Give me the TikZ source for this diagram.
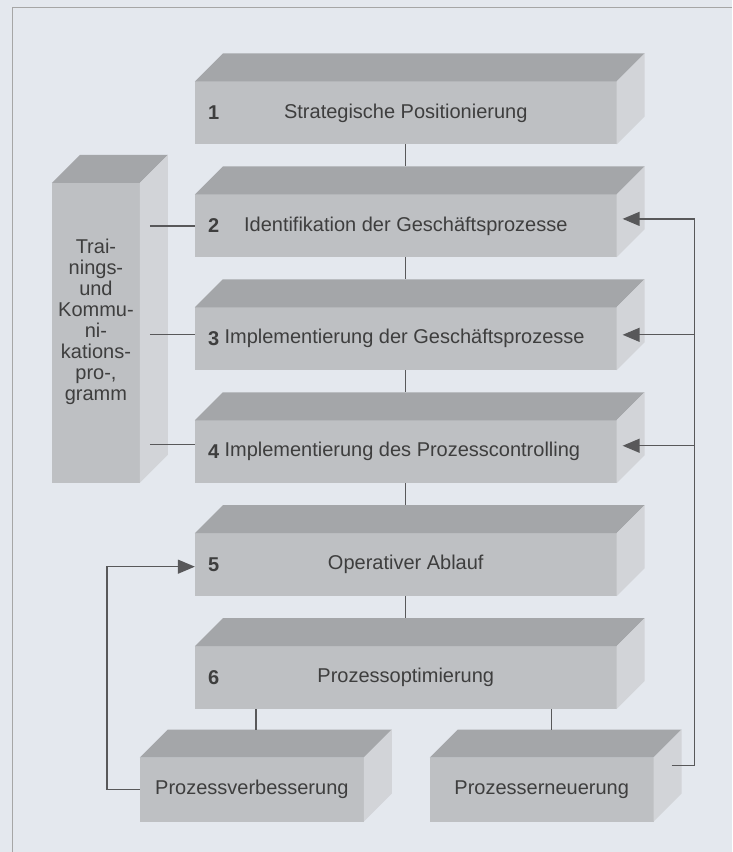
\documentclass[tikz,border=0pt]{standalone}
\usepackage{fontspec}
\setmainfont{Liberation Sans}
\usetikzlibrary{positioning, calc, arrows.meta}
\definecolor{paper}{RGB}{228,232,238}
\definecolor{frontgray}{RGB}{190,192,195}
\definecolor{topgray}{RGB}{164,166,169}
\definecolor{sidegray}{RGB}{210,212,216}
\definecolor{inkgray}{RGB}{62,62,62}
\definecolor{linegray}{RGB}{88,88,90}
\tikzstyle{Line} = [line width=1.3pt, draw=linegray]
\tikzstyle{Arrow} = [
%filled triangle tip like in the scan:
line width=1.3pt, draw=linegray,
-{Triangle[length=17pt, width=14pt]}
]
% top and right face of a block, drawn at the front node #1
\newcommand{\quader}[1]{%
\fill[topgray] (#1.north west) -- ++(28,-28) -- ($(#1.north east)+(28,-28)$) -- (#1.north east) -- cycle;
\fill[sidegray] (#1.north east) -- ++(28,-28) -- ($(#1.south east)+(28,-28)$) -- (#1.south east) -- cycle;
}

\begin{document}
\begin{tikzpicture}[
				x=1pt, y=-1pt,
				front/.style = {rectangle, fill=frontgray, inner sep=0pt, outer sep=0pt, text=inkgray, font=\fontsize{20}{21}\selectfont},
				stage/.style = {front, minimum width=422pt, minimum height=63pt},
				branch/.style = {front, minimum width=224pt, minimum height=64pt},
				nr/.style = {inner sep=0pt, text=inkgray, font=\fontsize{20}{21}\selectfont\bfseries},
				txt/.style = {inner sep=0pt, text=inkgray, font=\fontsize{20}{21}\selectfont},
			]
			\fill[paper] (0,0) rectangle (732,852);
			\draw[gray!70, line width=1pt] (13,852) -- (13,7) -- (732,7);

			\node[stage](B1) at (406,113){Strategische Positionierung};
			\node[stage](B2) at (406,226){Identifikation der Geschäftsprozesse};
			\node[stage](B3) at (406,339){};
			\node[stage](B4) at (406,452){};
			\node[stage](B5) at (406,565){Operativer Ablauf};
			\node[stage](B6) at (406,678){Prozessoptimierung};
			\node[branch](P1) at (252,790){Prozessverbesserung};
			\node[branch](P2) at (542,790){Prozesserneuerung};
			\node[front, minimum width=88pt, minimum height=300pt](T) at (96,333){};
			\node[txt, align=center](TT) at (96,322){Trai-\\nings-\\und\\Kommu-\\ni-\\kations-\\pro-,\\gramm};

			\quader{B1} \quader{B2} \quader{B3} \quader{B4} \quader{B5} \quader{B6}
			\quader{P1} \quader{P2} \quader{T}

			\node[nr, right=13pt of B1.west](N1){1};
			\node[nr, right=13pt of B2.west](N2){2};
			\node[nr, right=13pt of B3.west](N3){3};
			\node[txt, right=5pt of N3](T3){Implementierung der Geschäftsprozesse};
			\node[nr, right=13pt of B4.west](N4){4};
			\node[txt, right=5pt of N4](T4){Implementierung des Prozesscontrolling};
			\node[nr, right=13pt of B5.west](N5){5};
			\node[nr, right=13pt of B6.west](N6){6};

			\draw[Line](B1.south)--($(B2.north)+(0,-28)$);
			\draw[Line](B2.south)--($(B3.north)+(0,-28)$);
			\draw[Line](B3.south)--($(B4.north)+(0,-28)$);
			\draw[Line](B4.south)--($(B5.north)+(0,-28)$);
			\draw[Line](B5.south)--($(B6.north)+(0,-28)$);
			\draw[Line]($(B6.south -| P1.north)+(4,0)$)--($(P1.north)+(4,-28)$);
			\draw[Line]($(B6.south -| P2.north)+(10,0)$)--($(P2.north)+(10,-28)$);

			\draw[Line]($(T.east |- B2.west)+(10,0)$)--(B2.west);
			\draw[Line]($(T.east |- B3.west)+(10,-4)$)--($(B3.west)+(0,-4)$);
			\draw[Line]($(T.east |- B4.west)+(10,-7)$)--($(B4.west)+(0,-7)$);

			\draw[Arrow](P1.west)--++(-33,0)|-($(B5.west)+(0,2)$);
			\draw[Arrow]($(P2.east)+(18,-24)$)--++(23,0)|-($(B2.east)+(6,-7)$);
			\draw[Arrow]($(B3.east)+(78,-4)$)--($(B3.east)+(6,-4)$);
			\draw[Arrow]($(B4.east)+(78,-6)$)--($(B4.east)+(6,-6)$);

		\end{tikzpicture}
\end{document}
